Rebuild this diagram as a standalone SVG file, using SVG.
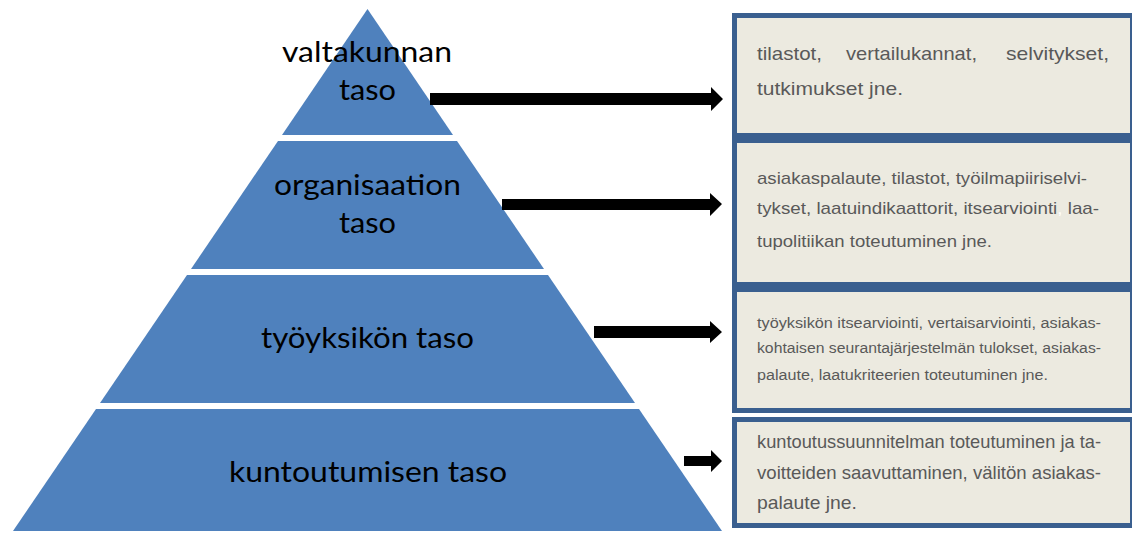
<svg xmlns="http://www.w3.org/2000/svg" width="1132" height="533" viewBox="0 0 1132 533">
  <defs>
    <style>
      .tier { fill: #4F81BD; }
      .tl { font-family: Lato, "Liberation Sans", sans-serif; font-size: 28.5px; fill: #000; }
      .box { fill: #ECEAE0; stroke: #3A5F8F; stroke-width: 5; }
      .bt { font-family: "Liberation Sans", Arial, sans-serif; fill: #595959; }
      .f19 { font-size: 19px; }
      .f17 { font-size: 17px; }
      .f15 { font-size: 15.5px; }
      .arrow { fill: #000; }
    </style>
  </defs>
  <rect x="0" y="0" width="1132" height="533" fill="#ffffff"/>

  <g id="tier-valtakunnan">
    <polygon class="tier" points="367.5,9 453,135 282,135"/>
    <text class="tl" x="282" y="62" textLength="170" lengthAdjust="spacingAndGlyphs">valtakunnan</text>
    <text class="tl" x="339" y="100" textLength="57" lengthAdjust="spacingAndGlyphs">taso</text>
  </g>
  <g id="tier-organisaation">
    <polygon class="tier" points="278,141 457,141 544,269 191,269"/>
    <text class="tl" x="274" y="195" textLength="187" lengthAdjust="spacingAndGlyphs">organisaation</text>
    <text class="tl" x="339" y="233" textLength="57" lengthAdjust="spacingAndGlyphs">taso</text>
  </g>
  <g id="tier-tyoyksikon">
    <polygon class="tier" points="187,275 548,275 635,403 100,403"/>
    <text class="tl" x="261" y="348" textLength="213" lengthAdjust="spacingAndGlyphs">työyksikön taso</text>
  </g>
  <g id="tier-kuntoutumisen">
    <polygon class="tier" points="96,409 639,409 722,531 13,531"/>
    <text class="tl" x="229" y="482" textLength="278" lengthAdjust="spacingAndGlyphs">kuntoutumisen taso</text>
  </g>

  <g id="connectors">
    <polygon class="arrow" points="430,93 711,93 711,87 723,99 711,111 711,105 430,105"/>
    <polygon class="arrow" points="502,199 710,199 710,193 722,204 710,216 710,210 502,210"/>
    <polygon class="arrow" points="594,326 710,326 710,321 722,332 710,343 710,338 594,338"/>
    <polygon class="arrow" points="684,456 711,456 711,450 722,461 711,472 711,466 684,466"/>
  </g>

  <g id="box-valtakunnan">
    <rect class="box" x="734.5" y="15.5" width="398" height="120"/>
    <text class="bt f19" x="757" y="60" textLength="65" lengthAdjust="spacingAndGlyphs">tilastot,</text>
    <text class="bt f19" x="846" y="60" textLength="131" lengthAdjust="spacingAndGlyphs">vertailukannat,</text>
    <text class="bt f19" x="1006" y="60" textLength="103" lengthAdjust="spacingAndGlyphs">selvitykset,</text>
    <text class="bt f19" x="757" y="95" textLength="146" lengthAdjust="spacingAndGlyphs">tutkimukset jne.</text>
  </g>
  <g id="box-organisaation">
    <rect class="box" x="734.5" y="140.5" width="398" height="144"/>
    <text class="bt f17" x="757" y="184" textLength="330" lengthAdjust="spacingAndGlyphs">asiakaspalaute, tilastot, työilmapiiriselvi-</text>
    <text class="bt f17" x="757" y="214" textLength="342" lengthAdjust="spacingAndGlyphs">tykset, laatuindikaattorit, itsearviointi<tspan fill="#ffffff">,</tspan> laa-</text>
    <text class="bt f17" x="757" y="247" textLength="235" lengthAdjust="spacingAndGlyphs">tupolitiikan toteutuminen jne.</text>
  </g>
  <g id="box-tyoyksikon">
    <rect class="box" x="734.5" y="289.5" width="398" height="121"/>
    <text class="bt f15" x="757" y="328" textLength="344" lengthAdjust="spacingAndGlyphs">työyksikön itsearviointi, vertaisarviointi, asiakas-</text>
    <text class="bt f15" x="757" y="353" textLength="344" lengthAdjust="spacingAndGlyphs">kohtaisen seurantajärjestelmän tulokset, asiakas-</text>
    <text class="bt f15" x="757" y="380" textLength="291" lengthAdjust="spacingAndGlyphs">palaute, laatukriteerien  toteutuminen jne.</text>
  </g>
  <g id="box-kuntoutumisen">
    <rect class="box" x="734.5" y="419.5" width="398" height="106"/>
    <text class="bt f19" x="757" y="448" textLength="344" lengthAdjust="spacingAndGlyphs">kuntoutussuunnitelman toteutuminen ja ta-</text>
    <text class="bt f19" x="757" y="479" textLength="344" lengthAdjust="spacingAndGlyphs">voitteiden saavuttaminen, välitön  asiakas-</text>
    <text class="bt f19" x="757" y="509" textLength="100" lengthAdjust="spacingAndGlyphs">palaute jne.</text>
  </g>
</svg>
